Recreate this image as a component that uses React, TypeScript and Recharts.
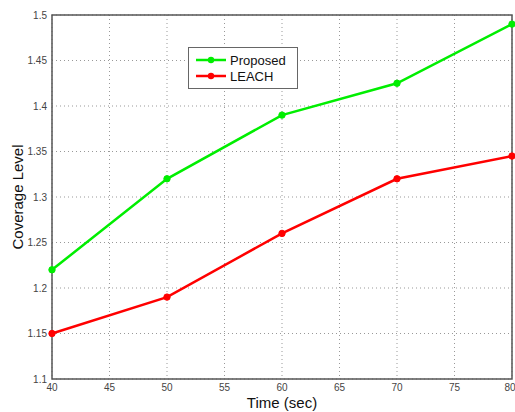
import React from "react";
import {
  LineChart,
  Line,
  CartesianGrid,
  XAxis,
  YAxis,
  Legend,
  ReferenceArea,
  Label,
} from "recharts";

const times = [40, 50, 60, 70, 80];
const proposed = [1.22, 1.32, 1.39, 1.425, 1.49];
const leach = [1.15, 1.19, 1.26, 1.32, 1.345];
const xTicks = [40, 45, 50, 55, 60, 65, 70, 75, 80];
const yTicks = [1.1, 1.15, 1.2, 1.25, 1.3, 1.35, 1.4, 1.45, 1.5];

const data = times.map((t, i) => ({ time: t, proposed: proposed[i], leach: leach[i] }));

const font = "'Liberation Sans', Arial, sans-serif";
const tickStyle = { fill: "#444", fontSize: 10, fontFamily: font };

function LegendBox() {
  const items = [
    { name: "Proposed", color: "#00ee00" },
    { name: "LEACH", color: "#ff0000" },
  ];
  return (
    <div
      style={{
        border: "1px solid #666",
        background: "#fff",
        width: 110,
        height: 42,
        boxSizing: "border-box",
        padding: "4px 0 0 6px",
        fontFamily: font,
        fontSize: 13,
        color: "#111",
        textAlign: "left",
      }}
    >
      {items.map((it) => (
        <div key={it.name} style={{ display: "flex", alignItems: "center", height: 16 }}>
          <svg width={32} height={10} style={{ marginRight: 3 }}>
            <line x1={1} y1={5} x2={31} y2={5} stroke={it.color} strokeWidth={2.5} />
            <circle cx={16} cy={5} r={3.2} fill={it.color} />
          </svg>
          <span>{it.name}</span>
        </div>
      ))}
    </div>
  );
}

export default function App() {
  return (
    <div style={{ position: "absolute", left: 0, top: 0, background: "#fff" }}>
      <LineChart
        width={515}
        height={412}
        data={data}
        margin={{ top: 15, right: 3, left: 0, bottom: 0 }}
      >
        <CartesianGrid stroke="#999" strokeDasharray="1 3" />
        <XAxis
          dataKey="time"
          type="number"
          domain={[40, 80]}
          ticks={xTicks}
          height={33}
          tickLine={false}
          axisLine={false}
          tickSize={0}
          tickMargin={5}
          tick={tickStyle}
        >
          <Label
            content={({ viewBox }: any) => (
              <text
                x={viewBox.x + viewBox.width / 2}
                y={viewBox.y + 29}
                textAnchor="middle"
                fontFamily={font}
                fontSize={15}
                fill="#111"
              >
                Time (sec)
              </text>
            )}
          />
        </XAxis>
        <YAxis
          type="number"
          domain={[1.1, 1.5]}
          ticks={yTicks}
          width={52}
          tickLine={false}
          axisLine={false}
          tickSize={0}
          tickMargin={5}
          tick={tickStyle}
        >
          <Label
            content={({ viewBox }: any) => {
              const cx = 17;
              const cy = viewBox.y + viewBox.height / 2;
              return (
                <text
                  x={cx}
                  y={cy}
                  transform={`rotate(-90 ${cx} ${cy})`}
                  textAnchor="middle"
                  dominantBaseline="central"
                  fontFamily={font}
                  fontSize={15}
                  fill="#111"
                >
                  Coverage Level
                </text>
              );
            }}
          />
        </YAxis>
        <ReferenceArea
          x1={40}
          x2={80}
          y1={1.1}
          y2={1.5}
          fill="none"
          stroke="#555"
          strokeWidth={1.5}
          ifOverflow="visible"
        />
        <Legend
          layout="horizontal"
          verticalAlign="middle"
          align="center"
          content={() => <LegendBox />}
          wrapperStyle={{ position: "absolute", left: 188, top: 47, width: 110, height: 42 }}
        />
        <Line
          dataKey="proposed"
          name="Proposed"
          stroke="#00ee00"
          strokeWidth={2.5}
          dot={{ r: 3.2, fill: "#00ee00", stroke: "#00ee00", strokeWidth: 1 }}
          isAnimationActive={false}
        />
        <Line
          dataKey="leach"
          name="LEACH"
          stroke="#ff0000"
          strokeWidth={2.5}
          dot={{ r: 3.2, fill: "#ff0000", stroke: "#ff0000", strokeWidth: 1 }}
          isAnimationActive={false}
        />
      </LineChart>
    </div>
  );
}
